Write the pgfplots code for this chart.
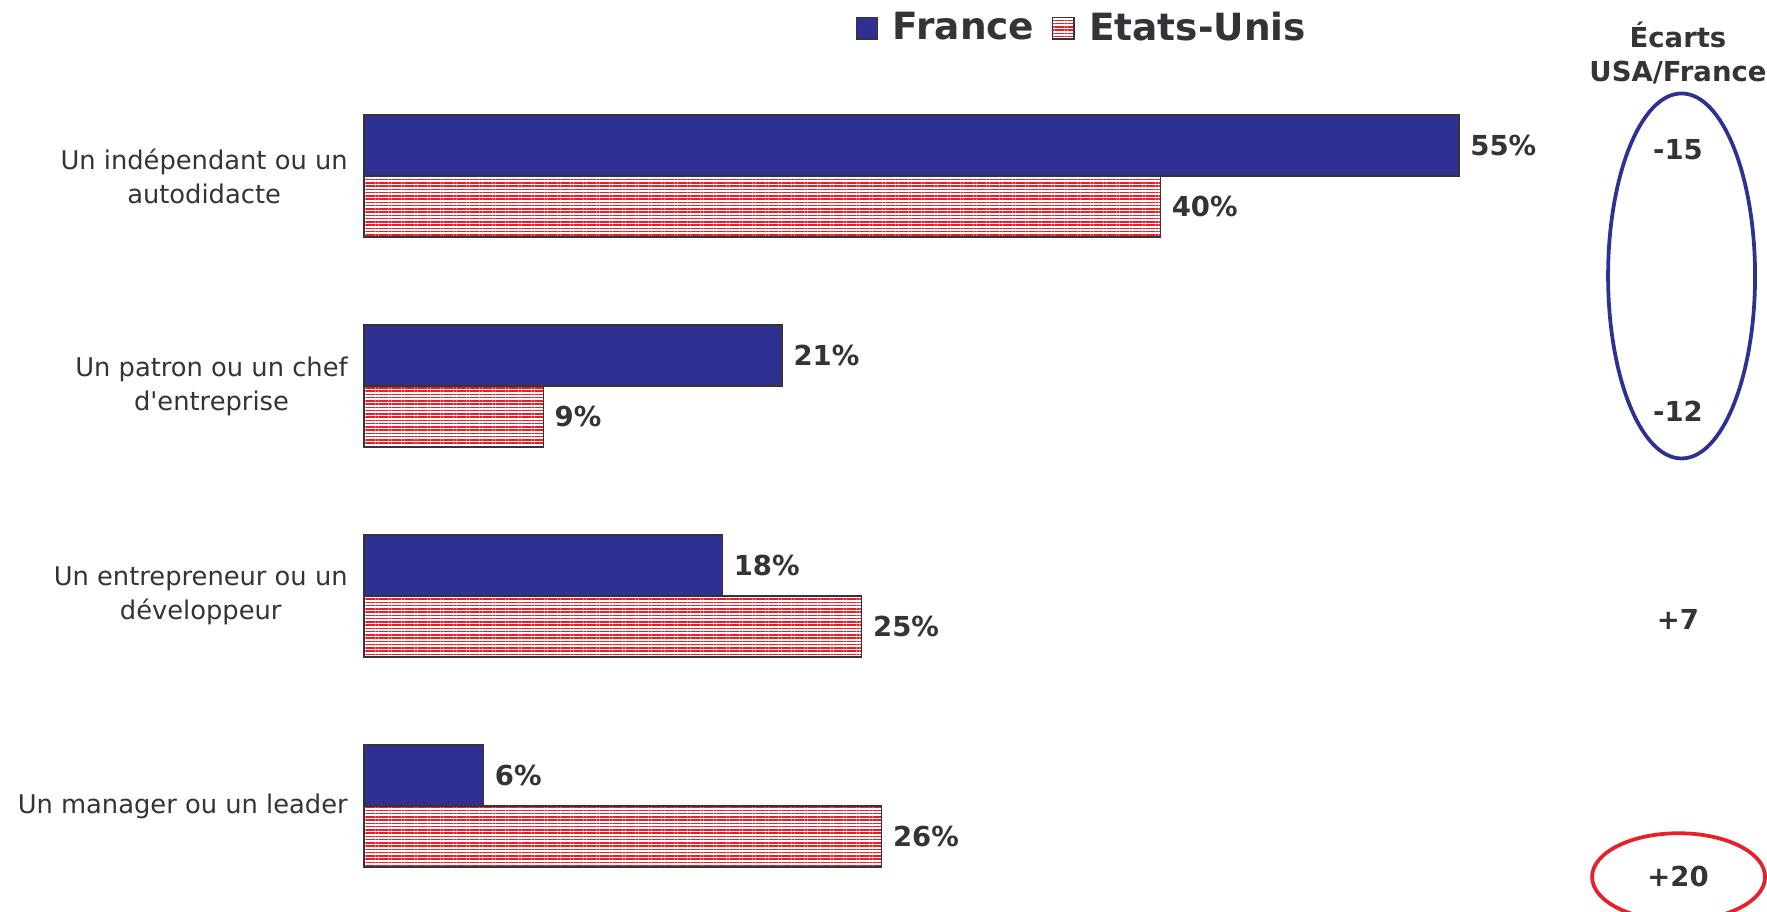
\documentclass[border=0pt]{standalone}
\usepackage{fontspec}
\setmainfont{DejaVu Sans}[Ligatures=TeXOff]
\usepackage{pgfplots}
\pgfplotsset{compat=1.18}
\usetikzlibrary{patterns.meta}
\definecolor{frblue}{RGB}{46,49,146}
\definecolor{usred}{RGB}{237,28,36}
\definecolor{txt}{RGB}{51,51,56}
\definecolor{ellred}{RGB}{232,32,42}

\begin{document}
\begin{tikzpicture}
\useasboundingbox (0pt,0pt) rectangle (706.8pt,364.4pt);
\begin{axis}[
  at={(145.6pt,0pt)}, anchor=south west,
  scale only axis, width=438pt, height=336pt,
  xmin=0, xmax=55, ymin=0.5, ymax=4.5,
  axis line style={draw=none},
  major tick length=0pt,
  xtick=\empty,
  ytick={1,2,3,4},
  yticklabels={Un manager ou un leader, Un entrepreneur ou un\\développeur, Un patron ou un chef\\d'entreprise, Un indépendant ou un\\autodidacte},
  yticklabel style={align=center, text=txt, font=\fontsize{10.3}{13.6}\selectfont, xshift=-3pt},
  xbar, bar width=24.4pt,
  clip=false,
  /pgf/number format/assume math mode=true,
  nodes near coords={\pgfmathprintnumber{\pgfplotspointmeta}\%},
  nodes near coords style={font=\bfseries\fontsize{11}{13}\selectfont, text=txt, anchor=west, xshift=1pt},
  point meta=x,
  legend style={at={(0.657,1.051)}, anchor=center, draw=none, fill=none,
    font=\bfseries\fontsize{15}{18}\selectfont, text=txt,
    /tikz/every even column/.append style={column sep=5pt}},
  legend columns=2,
  legend image code/.code={\draw[#1,draw=txt,line width=0.5pt] (0pt,-4.3pt) rectangle (8.6pt,4.3pt); \path (12.4pt,0pt);},
]
\addplot[fill=frblue, draw=txt, line width=0.5pt, bar shift=12.2pt]
  coordinates {(55,4) (21,3) (18,2) (6,1)};
\addplot[pattern={Lines[angle=0,distance=1.3pt,line width=0.6pt]}, pattern color=usred, draw=txt, line width=0.5pt, bar shift=-12.2pt]
  coordinates {(40,4) (9,3) (25,2) (26,1)};
\legend{France, Etats-Unis}

\node[font=\bfseries\fontsize{11}{13.5}\selectfont, text=txt, align=center] at (axis cs:66,4.586) {Écarts\\USA/France};
\node[font=\bfseries\fontsize{11}{13}\selectfont, text=txt] at (axis cs:66,4.124) {-15};
\node[font=\bfseries\fontsize{11}{13}\selectfont, text=txt] at (axis cs:66,2.88) {-12};
\node[font=\bfseries\fontsize{11}{13}\selectfont, text=txt] at (axis cs:66,1.886) {+7};
\node[font=\bfseries\fontsize{11}{13}\selectfont, text=txt] at (axis cs:66,0.662) {+20};
\draw[frblue, line width=1.5pt] (axis cs:66.18,3.524) ellipse [x radius=29.4pt, y radius=73pt];
\draw[ellred, line width=1.5pt] (axis cs:66.03,0.662) ellipse [x radius=34.6pt, y radius=17.5pt];
\end{axis}
\end{tikzpicture}
\end{document}
